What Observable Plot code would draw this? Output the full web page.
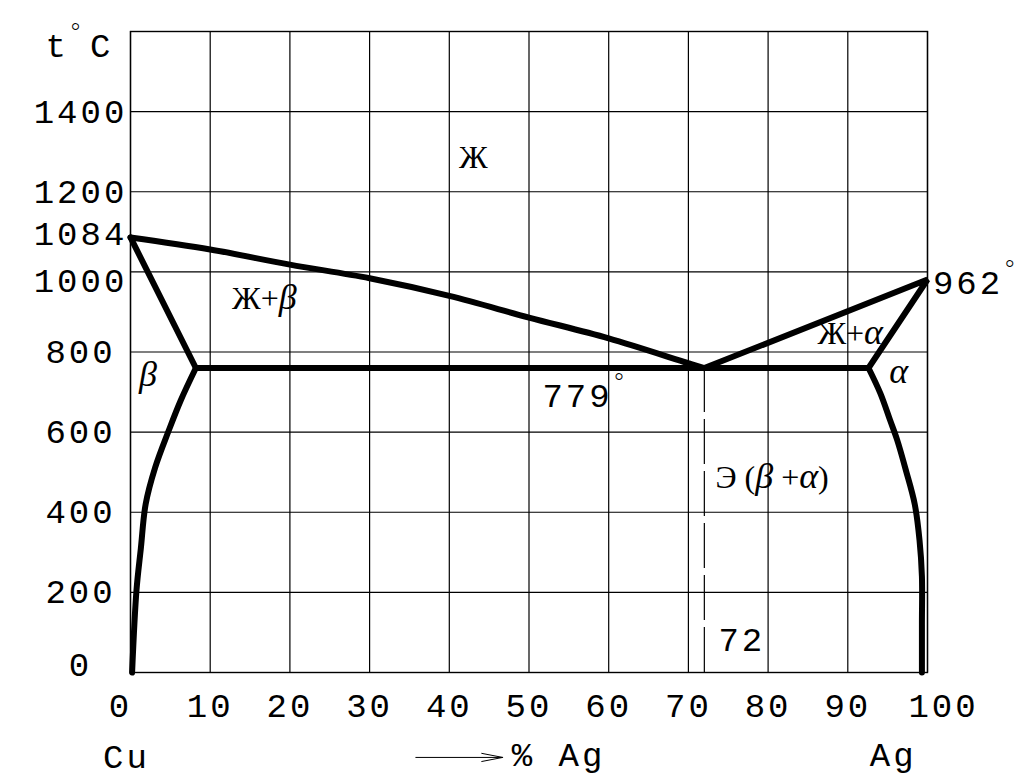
<!DOCTYPE html>
<html>
<head>
<meta charset="utf-8">
<script src="https://cdn.jsdelivr.net/npm/d3@7"></script>
<script src="https://cdn.jsdelivr.net/npm/@observablehq/plot@0.6"></script>
<style>
  html, body { margin: 0; padding: 0; background: #fff; }
  #chart svg { display: block; }
</style>
</head>
<body>
<div id="chart"></div>
<script>
// ---- data (x = % Ag, y = temperature °C) ----
const xTicks = [0, 10, 20, 30, 40, 50, 60, 70, 80, 90, 100];
const yTickLabels = [0, 200, 400, 600, 800, 1000, 1084, 1200, 1400];
const yGrid = [0, 200, 400, 600, 800, 1000, 1200, 1400, 1600];

const liquidusLeft = [[0, 1086], [10, 1056], [20, 1018], [30, 984], [40, 940], [50, 886], [60, 834], [70, 772], [72, 760]];
const solidusLeft = [[0, 1086], [8.2, 760]];
const solvusLeft = [[8.2, 760], [6.3, 679], [4.8, 604], [3.1, 512], [1.9, 420], [1.3, 310], [0.75, 205], [0.2, 0]];
const eutecticLine = [[8.2, 760], [92.6, 760]];
const liquidusRight = [[72, 760], [100, 981]];
const solidusRight = [[100, 981], [92.6, 760]];
const solvusRight = [[92.6, 760], [94.1, 696], [95.3, 630], [96.2, 580], [97.3, 504], [98.4, 420], [99.0, 330], [99.3, 240], [99.3, 120], [99.3, 0]];
const eutecticComposition = 72;
const eutecticTemp = 760;

const phaseLabels = [
  {x: 43, y: 1286, text: "Ж"},
  {x: 16.8, y: 934, text: "Ж+β"},
  {x: 2.2, y: 741, text: "β"},
  {x: 90.3, y: 846, text: "Ж+α"},
  {x: 96.4, y: 749, text: "α"},
  {x: 80.5, y: 487, text: "Э\u00a0(β\u00a0+α)"}
];
const valueLabels = [
  {x: 56.9, y: 691, text: "779°"},
  {x: 105.9, y: 973, text: "962°"},
  {x: 76.7, y: 82, text: "72"},
  {x: -6.4, y: 1563, text: "t°C"},
  {x: -0.5, y: -210, text: "Cu"},
  {x: 53.7, y: -205, text: "% Ag"},
  {x: 95.7, y: -205, text: "Ag"}
];
const axisArrow = [{x1: 35.8, x2: 46.7, y1: -212, y2: -212}];

const toPts = (arr) => arr.map(([x, y]) => ({x, y}));

const mono = "'Liberation Mono', 'DejaVu Sans Mono', monospace";
const serif = "'Liberation Serif', 'DejaVu Serif', serif";
const lineOpts = {x: "x", y: "y", stroke: "black", strokeWidth: 6, strokeLinejoin: "miter", strokeLinecap: "round"};
const curveOpts = {...lineOpts, curve: "catmull-rom"};
const fmt = (d) => String(d);
const xAxisOpts = {tickSize: 0, tickPadding: 20, fontSize: 34, label: null, tickFormat: fmt};
const yAxisOpts = {tickSize: 0, tickPadding: 50, textAnchor: "middle", fontSize: 34, label: null, tickFormat: fmt};
const yShiftUp = [1084];
const yShiftDown = [1000];
const yBottom = [0];
const yPlain = yTickLabels.filter((d) => ![...yShiftUp, ...yShiftDown, ...yBottom].includes(d));

const chart = Plot.plot({
  width: 1019,
  height: 779,
  marginLeft: 130,
  marginRight: 92,
  marginTop: 31,
  marginBottom: 107,
  x: {domain: [0, 100], axis: null},
  y: {domain: [0, 1600], axis: null},
  style: {fontFamily: mono, background: "#fff", color: "#000", overflow: "visible"},
  marks: [
    Plot.gridX(xTicks, {stroke: "#000", strokeOpacity: 1, strokeWidth: 1.2}),
    Plot.gridY(yGrid, {stroke: "#000", strokeOpacity: 1, strokeWidth: 1.2}),
    Plot.frame({stroke: "#000", strokeWidth: 1.4}),
    Plot.axisX(xTicks.slice(1, -1), xAxisOpts),
    Plot.axisX(xTicks.slice(0, 1), {...xAxisOpts, dx: -10}),
    Plot.axisX(xTicks.slice(-1), {...xAxisOpts, dx: 16}),
    Plot.axisY(yPlain, yAxisOpts),
    Plot.axisY(yShiftUp, {...yAxisOpts, dy: -4}),
    Plot.axisY(yShiftDown, {...yAxisOpts, dy: 9}),
    Plot.axisY(yBottom, {...yAxisOpts, dy: -7}),
    Plot.ruleX([eutecticComposition], {y1: 0, y2: eutecticTemp, stroke: "#000", strokeWidth: 1.2, strokeDasharray: "45,7"}),
    Plot.line(toPts(liquidusLeft), curveOpts),
    Plot.line(toPts(solidusLeft), lineOpts),
    Plot.line(toPts(solvusLeft), curveOpts),
    Plot.line(toPts(eutecticLine), lineOpts),
    Plot.line(toPts([...liquidusRight, ...solidusRight.slice(1)]), lineOpts),
    Plot.line(toPts(solvusRight), curveOpts),
    Plot.text(phaseLabels, {x: "x", y: "y", text: "text", fontFamily: serif, fontSize: 32, fill: "#000", lineAnchor: "middle", ariaDescription: "phases"}),
    Plot.text(valueLabels, {x: "x", y: "y", text: "text", fontFamily: mono, fontSize: 34, fill: "#000", lineAnchor: "middle", ariaDescription: "values"}),
    Plot.arrow(axisArrow, {x1: "x1", y1: "y1", x2: "x2", y2: "y2", stroke: "#000", strokeWidth: 1, headLength: 32, headAngle: 22})
  ]
});

document.getElementById("chart").appendChild(chart);

const svg = d3.select(chart);
svg.selectAll('g[aria-label="x-axis tick label"] text, g[aria-label="y-axis tick label"] text')
  .style("letter-spacing", "3px");
// value labels: letter-spaced, degree sign as a raised superscript ring
svg.selectAll('g[aria-description="values"] text').each(function () {
  const s = this.textContent;
  const el = d3.select(this).style("letter-spacing", "3px");
  el.text(null);
  let raised = false;
  for (const ch of s) {
    const t = el.append("tspan").text(ch);
    if (ch === "°") {
      t.attr("font-size", 26).attr("dy", -15)
        .style("font-family", "'DejaVu Sans', sans-serif")
        .style("font-weight", "300")
        .style("letter-spacing", "0px");
      raised = true;
    } else if (raised) {
      t.attr("dy", 15).attr("dx", 8);
      raised = false;
    }
  }
});
// italic Greek letters inside the phase labels
svg.selectAll('g[aria-description="phases"] text').each(function () {
  const s = this.textContent;
  const el = d3.select(this);
  el.text(null);
  for (const ch of s) {
    const greek = /[αβ]/.test(ch);
    el.append("tspan").text(ch)
      .attr("font-style", greek ? "italic" : "normal")
      .attr("font-size", greek ? 36 : null);
  }
});
</script>
</body>
</html>
